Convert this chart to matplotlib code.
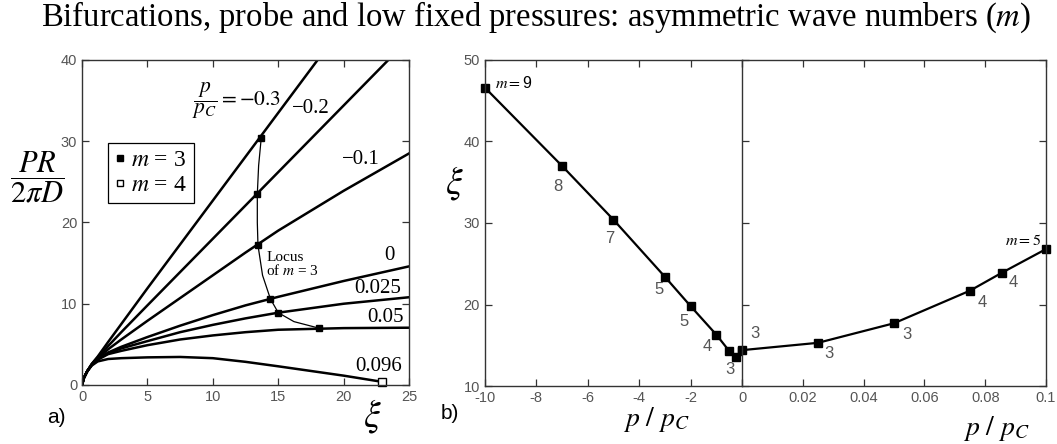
import matplotlib
matplotlib.use('Agg')
import matplotlib.pyplot as plt
from matplotlib.lines import Line2D

plt.rcParams['mathtext.fontset'] = 'stix'
plt.rcParams['font.family'] = ['Liberation Sans', 'DejaVu Sans']

# a) PR/(2 pi D) against xi for fixed p/pc
xi_grid = [0, 0.15, 0.4, 0.75, 1.2, 2, 3, 5, 7.5, 10, 12.5, 15, 20, 25]
pr_m030 = [0, 0.9, 1.7, 2.6, 3.5, 5.3, 7.5, 11.9, 17.3, 22.7, 28.1, 33.5, 44.3, 55.0]
pr_m020 = [0, 0.9, 1.7, 2.6, 3.4, 4.8, 6.5, 9.8, 13.9, 18.0, 22.1, 26.2, 34.4, 42.6]
pr_m010 = [0, 0.9, 1.7, 2.5, 3.3, 4.4, 5.6, 7.9, 10.7, 13.5, 16.3, 19.0, 23.9, 28.5]
pr_000 = [0, 0.9, 1.7, 2.5, 3.2, 4.0, 4.7, 5.9, 7.3, 8.6, 9.8, 10.85, 12.8, 14.6]
pr_0025 = [0, 0.9, 1.7, 2.5, 3.2, 3.9, 4.5, 5.4, 6.5, 7.4, 8.2, 8.9, 10.0, 10.8]
pr_005 = [0, 0.9, 1.7, 2.5, 3.1, 3.8, 4.2, 4.9, 5.6, 6.1, 6.5, 6.8, 7.0, 7.05]
xi_0096 = [0, 0.15, 0.4, 0.75, 1.2, 2, 3, 5, 7.5, 10, 12.5, 15, 20, 22.9]
pr_0096 = [0, 0.9, 1.7, 2.4, 2.9, 3.2, 3.3, 3.4, 3.45, 3.3, 2.85, 2.3, 1.15, 0.4]

locus_xi = [13.7, 13.5, 13.4, 13.4, 13.45, 13.8, 14.4, 15.0, 16.2, 18.1]
locus_pr = [30.4, 27.0, 23.5, 20.0, 17.2, 13.5, 10.6, 8.9, 7.8, 7.0]
m3_xi = [13.7, 13.4, 13.45, 14.4, 15.0, 18.1]
m3_pr = [30.4, 23.5, 17.2, 10.6, 8.9, 7.0]
m4_xi = [22.9]
m4_pr = [0.4]

# b) xi against p/pc
p_neg = [-10, -7, -5, -3, -2, -1, -0.5, -0.25, 0]
xi_neg = [46.6, 37.0, 30.4, 23.4, 19.8, 16.3, 14.3, 13.6, 14.3]
m_neg = ['9', '8', '7', '5', '5', '4', '3']
p_pos = [0, 0.025, 0.05, 0.075, 0.0855, 0.1]
xi_pos = [14.4, 15.3, 17.7, 21.7, 23.9, 26.8]
m_pos = ['3', '3', '3', '4', '4']

spine_c = '#333333'
tick_c = '#555555'
serif = ['Liberation Serif', 'DejaVu Serif']

fig = plt.figure(figsize=(10.57, 4.44), dpi=100)
ax = fig.add_axes([0.0776, 0.1329, 0.3094, 0.732])
axl = fig.add_axes([0.4588, 0.1306, 0.2432, 0.7343])
axr = fig.add_axes([0.7020, 0.1306, 0.2876, 0.7343])


def style(a):
    for s in a.spines.values():
        s.set_color(spine_c)
        s.set_linewidth(1.0)
    a.tick_params(direction='in', length=5, width=0.9, color=spine_c,
                  labelcolor=tick_c, labelsize=10.5)


# panel a
style(ax)
ax.tick_params(top=True, right=True)
for y in [pr_m030, pr_m020, pr_m010, pr_000, pr_0025, pr_005]:
    ax.plot(xi_grid, y, color='black', lw=1.8)
ax.plot(xi_0096, pr_0096, color='black', lw=1.8)
ax.plot(locus_xi, locus_pr, color='black', lw=0.9)
ax.plot(m3_xi, m3_pr, 's', color='black', ms=5, ls='none')
ax.plot(m4_xi, m4_pr, 's', mfc='white', mec='black', ms=6, mew=1, ls='none', clip_on=False)
ax.set_xlim(0, 25)
ax.set_ylim(0, 40)
ax.set_xticks([0, 5, 10, 15, 20, 25])
ax.set_yticks([0, 10, 20, 30, 40])

ax.text(8.4, 35.0, r'$\dfrac{p}{p_C} = -0.3$', fontsize=15.5, va='center')
ax.text(17.5, 34.0, '−0.2', fontsize=15, family=serif, ha='center', va='center')
ax.text(21.3, 27.7, '−0.1', fontsize=15, family=serif, ha='center', va='center')
ax.text(23.5, 15.9, '0', fontsize=15, family=serif, ha='center', va='center')
ax.text(22.6, 11.9, '0.025', fontsize=15, family=serif, ha='center', va='center')
ax.text(23.2, 8.25, '0.05', fontsize=15, family=serif, ha='center', va='center')
ax.text(22.7, 2.3, '0.096', fontsize=15, family=serif, ha='center', va='center')
ax.text(14.1, 14.8, 'Locus\nof $m$ = 3', fontsize=11, family=serif, va='center',
        linespacing=0.9)

handles = [Line2D([], [], marker='s', color='black', ls='none', ms=4),
           Line2D([], [], marker='s', mfc='white', mec='black', ls='none', ms=4)]
leg = ax.legend(handles, ['$m$ = 3', '$m$ = 4'], loc='upper left',
                bbox_to_anchor=(0.079, 0.746), borderaxespad=0, fancybox=False,
                edgecolor='black', prop={'family': serif, 'size': 17}, handlelength=0.4,
                handletextpad=0.3, borderpad=0.3, labelspacing=0.15, framealpha=1)
leg.get_frame().set_linewidth(0.9)

# panel b, negative side
style(axl)
axl.tick_params(top=True)
axl.plot(p_neg, xi_neg, color='black', lw=1.6, marker='s', ms=5.5, clip_on=False)
axl.set_xlim(-10, 0)
axl.set_ylim(10, 50)
axl.set_xticks([-10, -8, -6, -4, -2, 0])
axl.set_xticklabels(['-10', '-8', '-6', '-4', '-2', '0'])
axl.set_yticks([10, 20, 30, 40, 50])
axl.spines['right'].set_visible(False)
lbl_pos = [(-9.6, 47.2), (-7.15, 34.5), (-5.14, 28.1), (-3.23, 21.9),
           (-2.25, 17.9), (-1.37, 14.9), (-0.47, 12.0)]
for i, (lx, ly) in enumerate(lbl_pos):
    if i == 0:
        axl.text(lx, ly, '$m = $' + m_neg[i], fontsize=11.5, va='center')
    else:
        axl.text(lx, ly, m_neg[i], fontsize=12, color=tick_c, ha='center', va='center')

# panel b, positive side
style(axr)
axr.tick_params(top=True, right=True, labelleft=False)
axr.plot(p_pos, xi_pos, color='black', lw=1.6, marker='s', ms=5.5, clip_on=False)
axr.set_xlim(0, 0.1)
axr.set_ylim(10, 50)
axr.set_xticks([0, 0.02, 0.04, 0.06, 0.08, 0.1])
axr.set_xticklabels(['', '0.02', '0.04', '0.06', '0.08', '0.1'])
axr.set_yticks([10, 20, 30, 40, 50])
lbl_pos2 = [(0.0043, 16.5), (0.0287, 14.0), (0.0542, 16.3), (0.079, 20.3), (0.0893, 22.7)]
for t, (lx, ly) in zip(m_pos, lbl_pos2):
    axr.text(lx, ly, t, fontsize=12, color=tick_c, ha='center', va='center')
axr.text(0.0985, 27.9, '$m = 5$', fontsize=11.5, ha='right', va='center')

# labels outside axes
fig.text(0.507, 0.962, 'Bifurcations, probe and low fixed pressures: asymmetric wave numbers ($m$)',
         family=serif, fontsize=23.5, ha='center', va='center')
fig.text(0.035, 0.60, r'$\dfrac{PR}{2\pi D}$', fontsize=22, ha='center', va='center')
fig.text(0.352, 0.063, r'$\xi$', fontsize=27, ha='center', va='center')
fig.text(0.4295, 0.587, r'$\xi$', fontsize=27, ha='center', va='center')
fig.text(0.621, 0.056, r'$p\ /\ p_C$', fontsize=20, ha='center', va='center')
fig.text(0.943, 0.036, r'$p\ /\ p_C$', fontsize=20, ha='center', va='center')
fig.text(0.053, 0.059, 'a)', fontsize=15, ha='center', va='center')
fig.text(0.426, 0.068, 'b)', fontsize=15, ha='center', va='center')

fig.savefig('out.png', dpi=100)
